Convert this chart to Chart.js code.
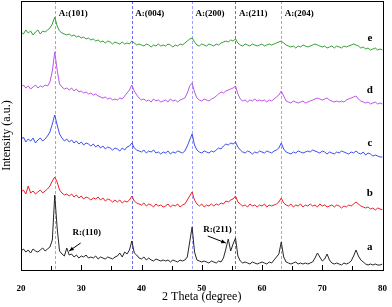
<!DOCTYPE html>
<html>
<head>
<meta charset="utf-8">
<script src="https://cdn.jsdelivr.net/npm/chart.js@4.4.0/dist/chart.umd.min.js"></script>
<style>
  html, body { margin: 0; padding: 0; background: #fff; }
  #wrap { width: 392px; height: 307px; }
</style>
</head>
<body>
<div id="wrap"><canvas id="xrd" width="392" height="307"></canvas></div>
<script>
// 2 theta positions (degree)
var angles = [
  20.0, 20.4, 20.8, 21.2, 21.6, 22.0, 22.4, 22.8, 23.2, 23.6,
  24.0, 24.4, 24.8, 25.2, 25.6, 26.0, 26.4, 26.8, 27.2, 27.6,
  28.0, 28.4, 28.8, 29.2, 29.6, 30.0, 30.4, 30.8, 31.2, 31.6,
  32.0, 32.4, 32.8, 33.2, 33.6, 34.0, 34.4, 34.8, 35.2, 35.6,
  36.0, 36.4, 36.8, 37.2, 37.6, 38.0, 38.4, 38.8, 39.2, 39.6,
  40.0, 40.4, 40.8, 41.2, 41.6, 42.0, 42.4, 42.8, 43.2, 43.6,
  44.0, 44.4, 44.8, 45.2, 45.6, 46.0, 46.4, 46.8, 47.2, 47.6,
  48.0, 48.4, 48.8, 49.2, 49.6, 50.0, 50.4, 50.8, 51.2, 51.6,
  52.0, 52.4, 52.8, 53.2, 53.6, 54.0, 54.4, 54.8, 55.2, 55.6,
  56.0, 56.4, 56.8, 57.2, 57.6, 58.0, 58.4, 58.8, 59.2, 59.6,
  60.0, 60.4, 60.8, 61.2, 61.6, 62.0, 62.4, 62.8, 63.2, 63.6,
  64.0, 64.4, 64.8, 65.2, 65.6, 66.0, 66.4, 66.8, 67.2, 67.6,
  68.0, 68.4, 68.8, 69.2, 69.6, 70.0, 70.4, 70.8, 71.2, 71.6,
  72.0, 72.4, 72.8, 73.2, 73.6, 74.0, 74.4, 74.8, 75.2, 75.6,
  76.0, 76.4, 76.8, 77.2, 77.6, 78.0, 78.4, 78.8, 79.2, 79.6,
  80.0
];

// intensities (a.u., curves stacked with offsets)
var seriesA = [
  19, 21, 18, 20, 17, 21, 19, 18, 20, 22,
  19, 21, 23, 30, 75, 42, 19, 16, 14, 22,
  15, 16, 13, 15, 12, 14, 13, 15, 12, 13,
  12, 14, 11, 13, 12, 11, 13, 12, 11, 13,
  14, 17, 13, 18, 16, 20, 29, 17, 15, 12,
  11, 13, 10, 12, 10, 9, 11, 10, 9, 10,
  9, 10, 8, 10, 9, 8, 10, 9, 10, 13,
  28, 43, 18, 10, 9, 8, 9, 8, 7, 9,
  8, 7, 9, 8, 12, 21, 31, 19, 26, 32,
  14, 9, 7, 8, 7, 6, 8, 7, 6, 7,
  8, 7, 6, 8, 7, 10, 13, 16, 28, 13,
  8, 7, 6, 7, 8, 6, 7, 6, 7, 6,
  7, 8, 12, 17, 13, 9, 11, 16, 10, 7,
  6, 7, 6, 5, 7, 6, 7, 9, 14, 20,
  14, 10, 8, 6, 5, 6, 5, 6, 5, 5,
  6
];
var seriesB = [
  78, 80, 76, 84, 77, 79, 76, 78, 80, 77,
  79, 81, 84, 89, 93, 88, 80, 77, 75, 76,
  74, 76, 73, 75, 72, 74, 71, 73, 72, 70,
  72, 71, 73, 70, 72, 69, 71, 70, 68, 70,
  68, 70, 67, 69, 68, 70, 74, 69, 67, 66,
  65, 67, 64, 66, 65, 63, 66, 64, 65, 63,
  64, 66, 63, 65, 64, 66, 63, 65, 66, 70,
  74, 78, 70, 66, 64, 66, 63, 65, 64, 66,
  64, 66, 65, 67, 66, 69, 68, 70, 71, 74,
  68, 66, 64, 65, 63, 66, 64, 65, 63, 65,
  64, 66, 63, 65, 64, 65, 66, 68, 72, 67,
  65, 64, 66, 63, 65, 64, 66, 63, 65, 64,
  66, 64, 65, 63, 66, 64, 65, 63, 64, 65,
  63, 65, 64, 62, 64, 63, 65, 64, 66, 68,
  66, 64, 63, 62, 63, 61, 62, 60, 62, 61,
  60
];
var seriesC = [
  130, 133, 128, 131, 129, 132, 127, 130, 132, 129,
  131, 134, 138, 146, 155, 145, 136, 132, 129, 131,
  128, 130, 127, 129, 126, 128, 125, 127, 126, 124,
  126, 123, 125, 122, 124, 121, 123, 122, 120, 122,
  121, 119, 122, 120, 123, 124, 127, 122, 120, 119,
  118, 120, 117, 119, 118, 120, 117, 118, 116, 118,
  117, 119, 116, 118, 117, 119, 118, 117, 119, 124,
  130, 136, 125, 120, 118, 117, 119, 118, 117, 119,
  118, 120, 122, 121, 124, 126, 125, 127, 126, 128,
  123, 120, 118, 117, 119, 118, 116, 118, 117, 119,
  118, 117, 119, 118, 117, 119, 120, 122, 127, 121,
  118, 117, 116, 118, 117, 119, 118, 117, 118, 119,
  118, 120, 119, 118, 117, 119, 118, 116, 118, 117,
  116, 118, 117, 119, 118, 117, 116, 118, 117, 119,
  117, 116, 118, 115, 117, 116, 114, 115, 114, 113,
  113
];
var seriesD = [
  183, 185, 182, 184, 181, 183, 185, 182, 184, 183,
  185, 184, 188, 199, 218, 200, 186, 183, 181, 182,
  180, 182, 179, 181, 178, 179, 177, 178, 176, 177,
  175, 176, 174, 173, 172, 173, 171, 172, 170, 171,
  170, 172, 171, 174, 177, 180, 185, 179, 175, 172,
  170, 171, 169, 170, 168, 171, 169, 170, 168, 169,
  170, 168, 171, 169, 170, 168, 170, 171, 172, 177,
  184, 187, 178, 172, 170, 169, 171, 170, 169, 171,
  172, 174, 176, 178, 177, 179, 180, 181, 182, 184,
  176, 171, 169, 170, 168, 170, 169, 171, 169, 170,
  169, 170, 168, 170, 169, 171, 173, 175, 179, 174,
  169, 168, 167, 169, 168, 167, 168, 169, 167, 168,
  169, 170, 171, 172, 171, 170, 171, 172, 170, 169,
  168, 169, 168, 169, 168, 170, 171, 172, 173, 174,
  171, 169, 168, 167, 168, 166, 167, 168, 166, 167,
  166
];
var seriesE = [
  238, 236, 240, 237, 239, 235, 238, 240, 236, 239,
  238, 240, 242, 246, 253, 244, 239, 237, 236, 235,
  236, 234, 235, 233, 234, 232, 233, 231, 232, 230,
  231, 229, 230, 228, 229, 227, 229, 228, 226, 228,
  227, 226, 228, 226, 227, 226, 229, 227, 225, 226,
  225, 224, 226, 225, 223, 225, 224, 226, 224, 225,
  224, 226, 225, 223, 225, 224, 226, 225, 227, 229,
  231, 232, 228, 225, 224, 226, 225, 224, 226, 225,
  224, 226, 225, 227, 228, 229, 228, 230, 229, 231,
  227, 225, 224, 226, 225, 224, 226, 225, 224, 225,
  226, 224, 225, 226, 225, 226, 227, 228, 229, 227,
  225, 224, 223, 224, 222, 224, 223, 225, 224, 223,
  224, 225, 226, 225, 224, 223, 224, 222, 223, 224,
  222, 224, 223, 222, 224, 223, 224, 225, 226, 225,
  224, 222, 223, 221, 222, 220, 221, 222, 220, 221,
  220
];

var seriesNames = ["a", "b", "c", "d", "e"];
var seriesColors = ["#262626", "#f0202a", "#3c50f0", "#be55e8", "#34a034"];
var seriesLabelY = [23, 77, 127, 180, 232];

// anatase reference peaks (dashed lines)
var peakPos = [25.7, 38.4, 48.4, 55.6, 63.2];
var peakNames = ["A:(101)", "A:(004)", "A:(200)", "A:(211)", "A:(204)"];
var peakColors = ["#a0a0ff", "#6a6af0", "#a0a0ff", "#6a6af0", "#a0a0ff"];

// rutile notes: text anchor, arrow start, arrow tip (x in degree, y in a.u.)
var rutileNotes = [
  { text: "R:(110)", tx: 30.9, ty: 37, x0: 29.9, y0: 27, x1: 28.0, y1: 19 },
  { text: "R:(211)", tx: 52.6, ty: 40, x0: 51.0, y0: 34, x1: 54.0, y1: 27 }
];

var serif = "'Liberation Serif', 'Times New Roman', serif";

function toPts(ys) {
  return ys.map(function (v, i) { return { x: angles[i], y: v }; });
}

var decor = {
  id: "decor",
  beforeDatasetsDraw: function (chart) {
    var ctx = chart.ctx, a = chart.chartArea, xs = chart.scales.x;
    ctx.save();
    ctx.lineWidth = 1;
    ctx.setLineDash([3, 2]);
    peakPos.forEach(function (p, i) {
      var px = Math.round(xs.getPixelForValue(p)) + 0.5;
      ctx.strokeStyle = peakColors[i];
      ctx.beginPath();
      ctx.moveTo(px, a.top);
      ctx.lineTo(px, a.bottom);
      ctx.stroke();
    });
    ctx.restore();
  },
  afterDatasetsDraw: function (chart) {
    var ctx = chart.ctx, a = chart.chartArea, xs = chart.scales.x, ys = chart.scales.y;
    ctx.save();
    // frame
    ctx.strokeStyle = "#000";
    ctx.lineWidth = 1;
    ctx.strokeRect(Math.round(a.left) + 0.5, Math.round(a.top) + 0.5,
      Math.round(a.right - a.left), Math.round(a.bottom - a.top));
    // inward ticks
    for (var t = 20; t <= 80; t += 5) {
      var px = Math.round(xs.getPixelForValue(t)) + 0.5;
      var len = (t % 10 === 0) ? 5 : 4;
      ctx.beginPath();
      ctx.moveTo(px, a.bottom);
      ctx.lineTo(px, a.bottom - len);
      ctx.stroke();
    }
    // peak labels
    ctx.fillStyle = "#000";
    ctx.font = "bold 9px " + serif;
    ctx.textBaseline = "middle";
    ctx.textAlign = "left";
    peakPos.forEach(function (p, i) {
      ctx.fillText(peakNames[i], xs.getPixelForValue(p) + 3.5, a.top + 13);
    });
    // series letters
    ctx.font = "bold 11px " + serif;
    ctx.textAlign = "center";
    seriesNames.forEach(function (n, i) {
      ctx.fillText(n, xs.getPixelForValue(77.9), ys.getPixelForValue(seriesLabelY[i]));
    });
    // rutile notes with arrows
    ctx.font = "bold 9px " + serif;
    rutileNotes.forEach(function (r) {
      ctx.fillText(r.text, xs.getPixelForValue(r.tx), ys.getPixelForValue(r.ty));
      var x0 = xs.getPixelForValue(r.x0), y0 = ys.getPixelForValue(r.y0);
      var x1 = xs.getPixelForValue(r.x1), y1 = ys.getPixelForValue(r.y1);
      ctx.beginPath();
      ctx.moveTo(x0, y0);
      ctx.lineTo(x1, y1);
      ctx.stroke();
      var ang = Math.atan2(y1 - y0, x1 - x0);
      ctx.beginPath();
      ctx.moveTo(x1, y1);
      ctx.lineTo(x1 - 5 * Math.cos(ang - 0.4), y1 - 5 * Math.sin(ang - 0.4));
      ctx.lineTo(x1 - 5 * Math.cos(ang + 0.4), y1 - 5 * Math.sin(ang + 0.4));
      ctx.closePath();
      ctx.fill();
    });
    ctx.restore();
  }
};

var allSeries = [seriesA, seriesB, seriesC, seriesD, seriesE];

new Chart(document.getElementById("xrd"), {
  type: "line",
  data: {
    datasets: allSeries.map(function (s, i) {
      return {
        label: seriesNames[i],
        data: toPts(s),
        borderColor: seriesColors[i],
        borderWidth: 1,
        pointRadius: 0,
        tension: 0
      };
    })
  },
  options: {
    responsive: false,
    animation: false,
    layout: { padding: { top: 1, right: 6, left: 0, bottom: 0 } },
    plugins: { legend: { display: false }, tooltip: { enabled: false } },
    scales: {
      x: {
        type: "linear",
        min: 20,
        max: 80,
        grid: { display: false },
        border: { display: false },
        ticks: {
          stepSize: 10,
          padding: 5,
          color: "#000",
          font: { family: serif, size: 9, weight: "bold" }
        },
        title: {
          display: true,
          text: "2 Theta (degree)",
          color: "#000",
          padding: { top: 0, bottom: 3 },
          font: { family: serif, size: 12 }
        },
        afterFit: function (scale) { scale.height = 37; }
      },
      y: {
        min: 0,
        max: 269,
        grid: { display: false },
        border: { display: false },
        ticks: { display: false },
        title: {
          display: true,
          text: "Intensity (a.u.)",
          color: "#000",
          padding: { top: 0, bottom: 0 },
          font: { family: serif, size: 12 }
        },
        afterFit: function (scale) { scale.width = 21; }
      }
    }
  },
  plugins: [decor]
});
</script>
</body>
</html>
